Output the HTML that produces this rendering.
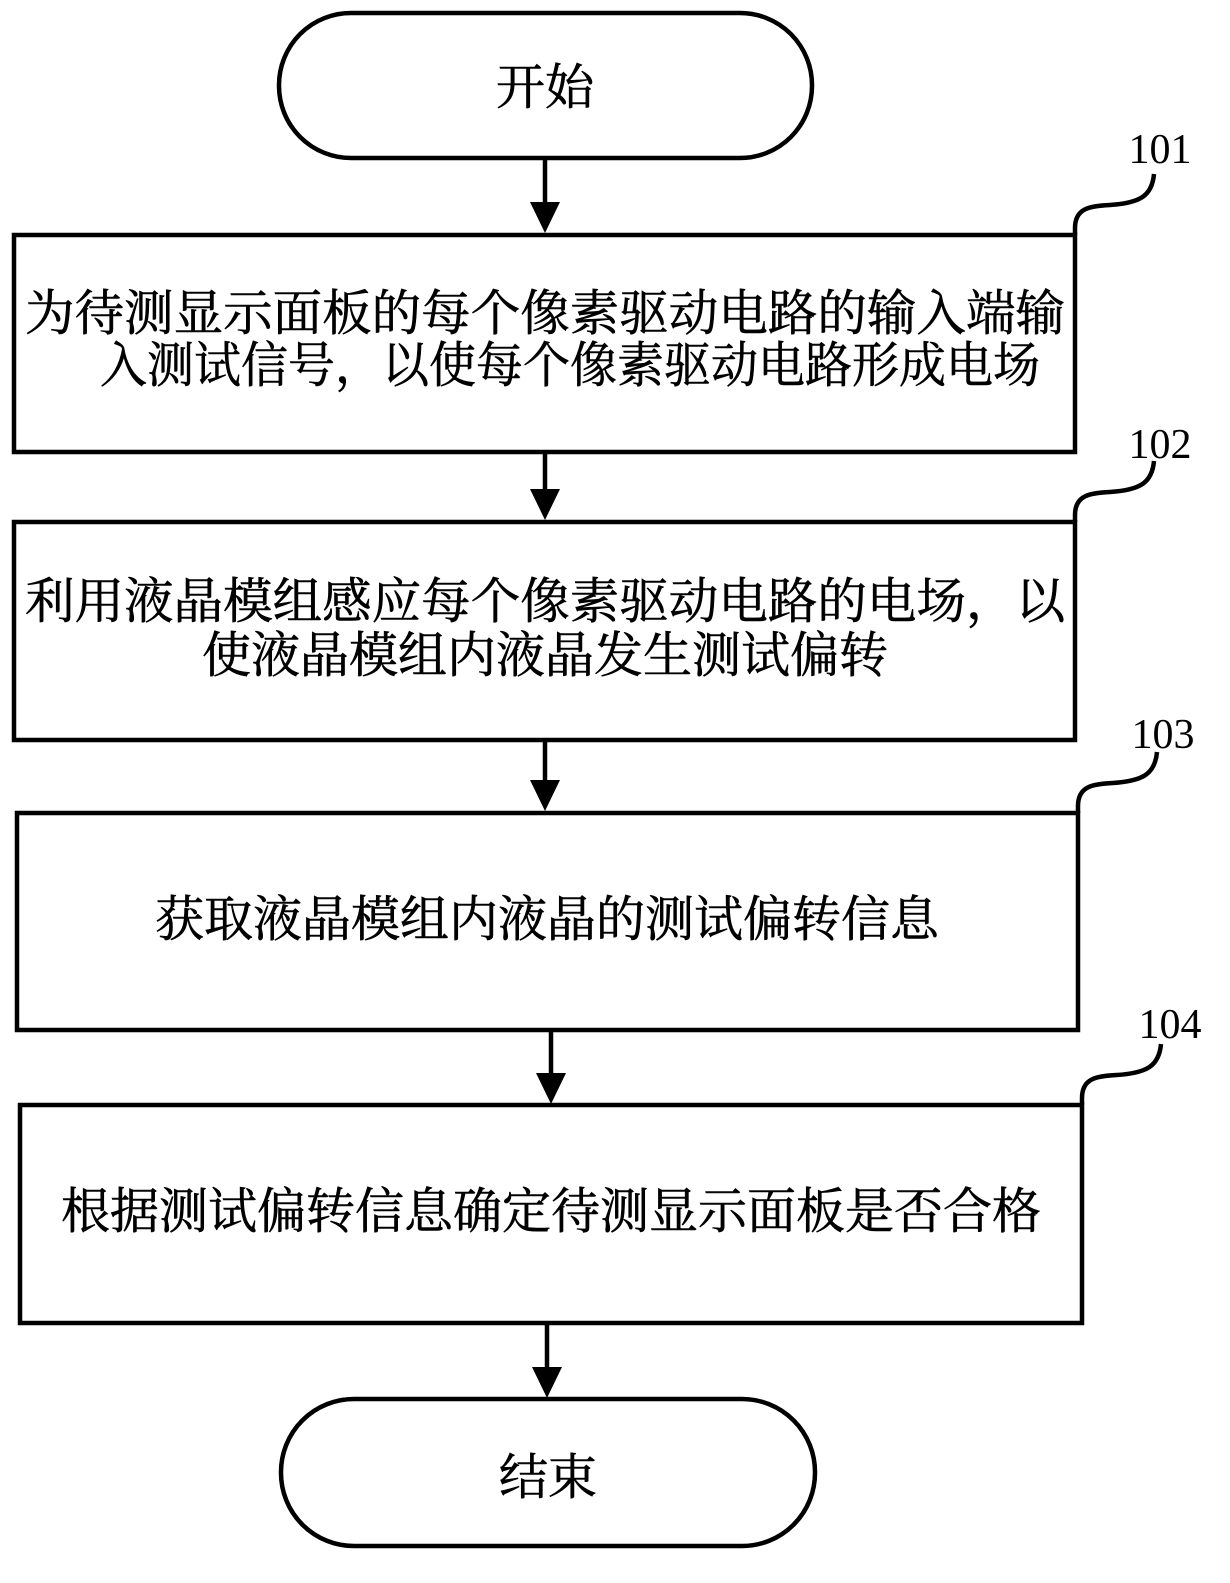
<!DOCTYPE html>
<html><head><meta charset="utf-8"><style>
html,body{margin:0;padding:0;background:#fff}
svg{display:block}
.t{font-family:"Liberation Serif","Noto Serif CJK SC","Noto Sans CJK SC",serif;font-size:49px;fill:#000;stroke:#000;stroke-width:0.6}
.n{font-family:"Liberation Serif",serif;font-size:42px;fill:#000}
</style></head><body>
<svg width="1230" height="1583" viewBox="0 0 1230 1583" xmlns="http://www.w3.org/2000/svg">
<g fill="none" stroke="#000" stroke-width="4.5">
<rect x="279" y="13" width="533" height="145" rx="72" ry="72"/>
<rect x="14" y="235" width="1061" height="217"/>
<rect x="14" y="522" width="1061" height="218"/>
<rect x="17" y="813" width="1061" height="217"/>
<rect x="20" y="1105" width="1062" height="218"/>
<rect x="281" y="1399" width="534" height="147" rx="73" ry="73"/>
<line x1="545" y1="158" x2="545" y2="205"/>
<line x1="545" y1="452" x2="545" y2="492"/>
<line x1="545" y1="740" x2="545" y2="783"/>
<line x1="551" y1="1030" x2="551" y2="1076"/>
<line x1="547" y1="1323" x2="547" y2="1370"/>
<path d="M1075,235 L1075,228 C1075,208 1090,206 1110,205 C1140,203 1152,196 1154,174"/>
<path d="M1075,522 L1075,515 C1075,495 1090,493 1110,492 C1140,490 1152,483 1154,461"/>
<path d="M1078,813 L1078,806 C1078,786 1093,784 1113,783 C1143,781 1155,774 1157,752"/>
<path d="M1082,1105 L1082,1098 C1082,1078 1097,1076 1117,1075 C1147,1073 1159,1066 1161,1044"/>
</g>
<g fill="#000">
<polygon points="530,202 560,202 545,233"/>
<polygon points="530,489 560,489 545,520"/>
<polygon points="530,780 560,780 545,811"/>
<polygon points="536,1073 566,1073 551,1104"/>
<polygon points="532,1367 562,1367 547,1398"/>
</g>
<text class="t" x="545" y="104" text-anchor="middle">开始</text>
<text class="t" x="545" y="330" text-anchor="middle" textLength="1040" lengthAdjust="spacingAndGlyphs">为待测显示面板的每个像素驱动电路的输入端输</text>
<text class="t" x="570" y="382" text-anchor="middle" textLength="940" lengthAdjust="spacingAndGlyphs">入测试信号，以使每个像素驱动电路形成电场</text>
<text class="t" x="545" y="618" text-anchor="middle" textLength="1040" lengthAdjust="spacingAndGlyphs">利用液晶模组感应每个像素驱动电路的电场，以</text>
<text class="t" x="545" y="672" text-anchor="middle">使液晶模组内液晶发生测试偏转</text>
<text class="t" x="547" y="936" text-anchor="middle">获取液晶模组内液晶的测试偏转信息</text>
<text class="t" x="551" y="1228" text-anchor="middle">根据测试偏转信息确定待测显示面板是否合格</text>
<text class="t" x="548" y="1494" text-anchor="middle">结束</text>
<text class="n" x="1160" y="163" text-anchor="middle">101</text>
<text class="n" x="1160" y="458" text-anchor="middle">102</text>
<text class="n" x="1163" y="748" text-anchor="middle">103</text>
<text class="n" x="1170" y="1038" text-anchor="middle">104</text>
</svg>
</body></html>
